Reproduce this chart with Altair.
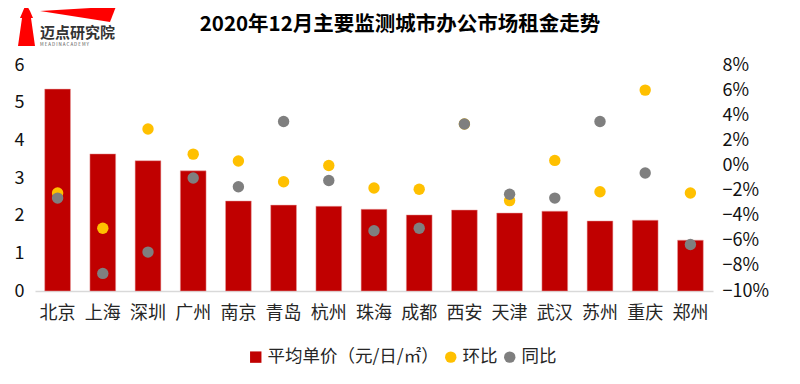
import altair as alt
import pandas as pd

cities = ["北京","上海","深圳","广州","南京","青岛","杭州","珠海","成都","西安","天津","武汉","苏州","重庆","郑州"]
price = [5.36,3.64,3.46,3.19,2.39,2.28,2.25,2.17,2.02,2.15,2.07,2.12,1.86,1.88,1.35]
mom = [-2.2,-5.0,2.9,0.9,0.35,-1.3,0.0,-1.8,-1.9,3.3,-2.8,0.4,-2.1,6.0,-2.2]
yoy = [-2.6,-8.6,-6.9,-1.0,-1.7,3.5,-1.2,-5.2,-5.0,3.3,-2.3,-2.6,3.5,-0.6,-6.3]
names = ["平均单价（元/日/㎡）","环比","同比"]
colors = ["#C00000","#FFC000","#7F7F7F"]
FONT = "Noto Sans CJK SC"

bars_df = pd.DataFrame({"city": cities, "v": price, "s": names[0]})
pts_df = pd.DataFrame({"city": cities*2, "v": [m/100 for m in mom]+[y/100 for y in yoy],
                       "s": [names[1]]*15+[names[2]]*15})

W, H = 678, 226
xenc = alt.X("city:N", sort=cities, title=None, scale=alt.Scale(paddingInner=0.43, paddingOuter=0.215),
             axis=alt.Axis(labelAngle=0, labelFont=FONT, labelFontSize=18, labelColor="#262626", labelPadding=13,
                           ticks=False, domainColor="#D9D9D9", domainWidth=1.5, grid=False))
color = alt.Color("s:N", scale=alt.Scale(domain=names, range=colors),
                  legend=alt.Legend(title=None, orient="none", legendX=212, legendY=283, direction="horizontal",
                                    labelFont=FONT, labelFontSize=17.5, labelColor="#262626", labelLimit=300,
                                    symbolSize=130, columnPadding=3, symbolOpacity=1, labelOffset=3, symbolStrokeWidth=0))
shape = alt.Shape("s:N", scale=alt.Scale(domain=names, range=["square","circle","circle"]))

bars = alt.Chart(bars_df).mark_bar(stroke="#E8A0A0", strokeWidth=0.5).encode(
    x=xenc,
    y=alt.Y("v:Q", title=None, scale=alt.Scale(domain=[0,6]),
            axis=alt.Axis(values=[0,1,2,3,4,5,6], grid=False, domain=False, ticks=False, labelFont=FONT,
                          labelFontSize=18, labelColor="#111111", labelPadding=11)),
    color=color, shape=shape)

points = alt.Chart(pts_df).mark_point(filled=True, size=130, opacity=1).encode(
    x=alt.X("city:N", sort=cities),
    y=alt.Y("v:Q", title=None, scale=alt.Scale(domain=[-0.10,0.08]),
            axis=alt.Axis(orient="right", format=".0%", values=[-0.1,-0.08,-0.06,-0.04,-0.02,0,0.02,0.04,0.06,0.08],
                          grid=False, domain=False, ticks=False, labelFont=FONT, labelFontSize=18,
                          labelColor="#111111", labelPadding=9)),
    color=color, shape=shape,
    order=alt.Order("s:N", sort="descending"))

logo_df = pd.DataFrame({"t": ["迈点研究院"]})
base = alt.Chart(logo_df)
wedge = base.mark_point(filled=True, opacity=1, color="#FF0000", size=4,
    shape="M 40 11 L 116 6.5 L 110 22 Z").encode(x=alt.value(-35), y=alt.value(-65))
tower = base.mark_point(filled=True, opacity=1, color="#FF0000", size=4,
    shape="M 26 4 L 30 11 L 33 18 L 31 18 L 35 46 L 18 46 L 22 18 L 20 18 L 23 11 Z").encode(x=alt.value(-35), y=alt.value(-65))
logo_text = base.mark_text(font=FONT, fontSize=15, fontWeight="bold", color="#333333", align="left", baseline="middle").encode(
    text="t:N", x=alt.value(5), y=alt.value(-32))
sub = alt.Chart(pd.DataFrame({"t":["M E A D I N    A C A D E M Y"]})).mark_text(font=FONT, fontSize=4.5, color="#555555", align="left", baseline="middle").encode(
    text="t:N", x=alt.value(5), y=alt.value(-20))

title = alt.Chart(pd.DataFrame({"t":["2020年12月主要监测城市办公市场租金走势"]})).mark_text(
    font=FONT, fontSize=20.5, fontWeight="bold", color="#000000", align="center", baseline="middle").encode(
    text="t:N", x=alt.value(365), y=alt.value(-40))

chart = alt.layer(bars, points, wedge, tower, logo_text, sub, title).resolve_scale(y="independent").properties(
    width=W, height=H, padding={"left":27,"top":57,"right":70,"bottom":80},
    autosize=alt.AutoSizeParams(type="none"), background="white"
).configure_view(stroke=None)

chart.save("out.html", embed_options={"renderer": "svg", "actions": False})
